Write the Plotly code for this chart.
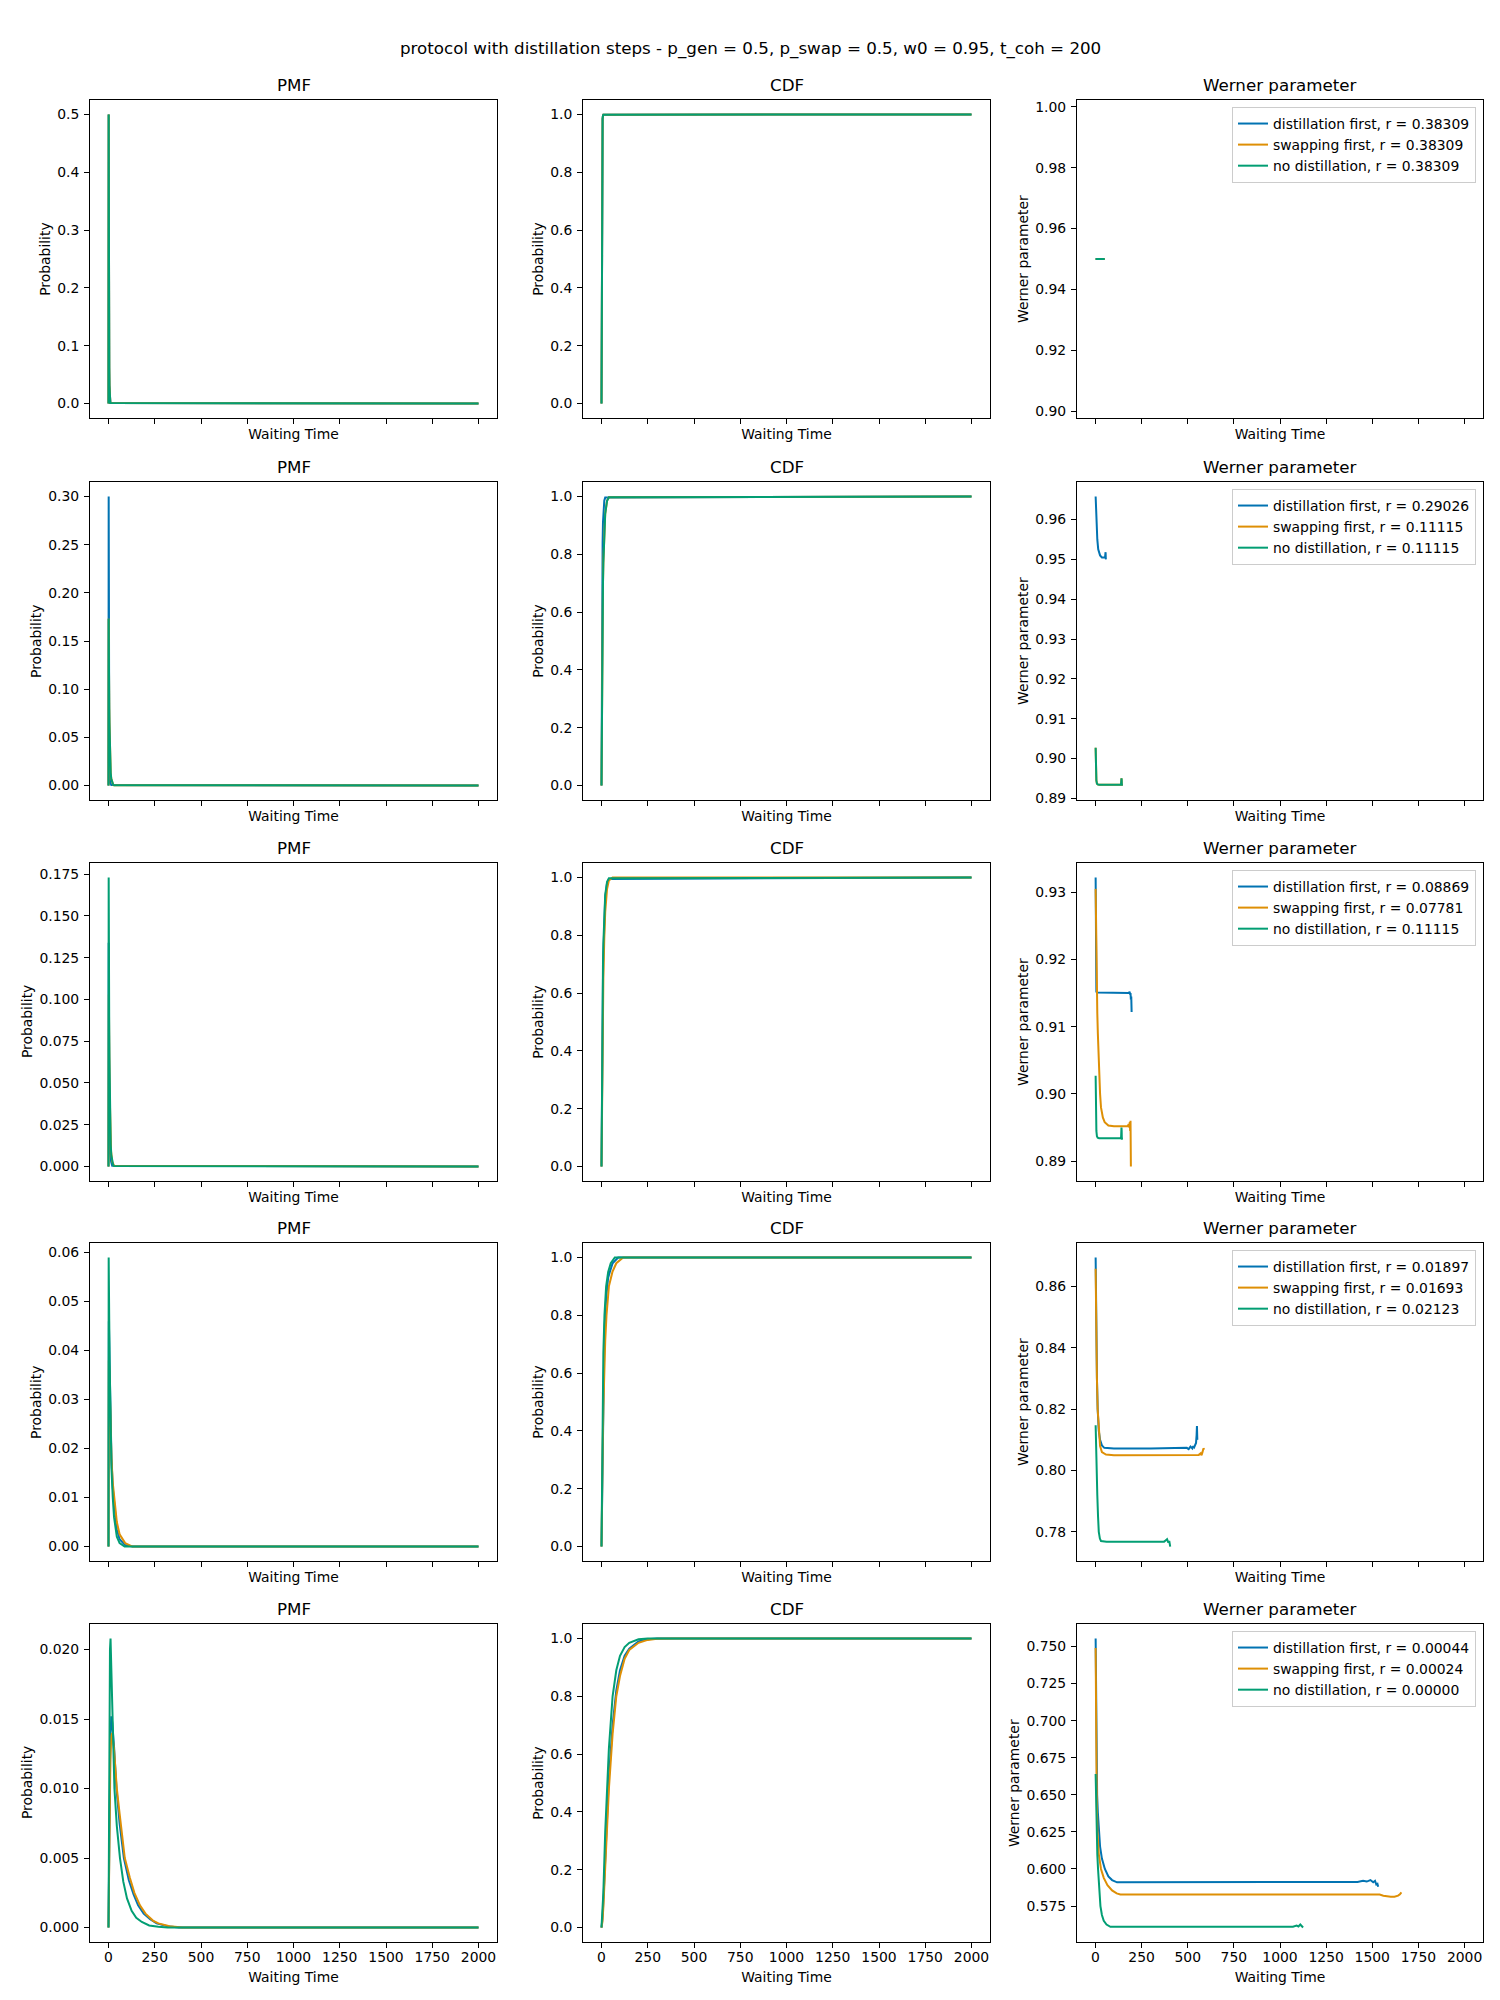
import math
import plotly.graph_objects as go

# ---------------- data ----------------
SUPTITLE = "protocol with distillation steps - p_gen = 0.5, p_swap = 0.5, w0 = 0.95, t_coh = 200"
COL_TITLES = ["PMF", "CDF", "Werner parameter"]
Y_TITLES = ["Probability", "Probability", "Werner parameter"]
X_TITLE = "Waiting Time"
SERIES_NAMES = ["distillation first", "swapping first", "no distillation"]
R_DIST = ["0.38309", "0.29026", "0.08869", "0.01897", "0.00044"]
R_SWAP = ["0.38309", "0.11115", "0.07781", "0.01693", "0.00024"]
R_NODI = ["0.38309", "0.11115", "0.11115", "0.02123", "0.00000"]
X_TICKS = [0, 250, 500, 750, 1000, 1250, 1500, 1750, 2000]

# ---- row 1 (all three curves coincide)
R1_PMF_T = [0, 1, 2, 3, 4, 5, 6, 8, 10, 2000]
R1_PMF_V = [0, 0.5, 0.25, 0.125, 0.0625, 0.031, 0.016, 0.004, 0.001, 0]
R1_CDF_T = [0, 1, 2, 3, 4, 5, 6, 8, 10, 2000]
R1_CDF_V = [0, 0.5, 0.75, 0.875, 0.94, 0.97, 0.985, 0.996, 0.999, 1.0]
R1_W_T = [1, 10, 20, 30, 40, 50]
R1_W_V = [0.95, 0.95, 0.95, 0.95, 0.95, 0.95]

# ---- row 2
R2_PMF_DIST_T = [0, 1, 2, 3, 4, 5, 6, 8, 10, 15, 2000]
R2_PMF_DIST_V = [0, 0.30, 0.16, 0.09, 0.05, 0.03, 0.018, 0.007, 0.003, 0.0005, 0]
R2_PMF_NODI_T = [0, 1, 2, 3, 4, 5, 6, 8, 10, 12, 15, 20, 25, 30, 2000]
R2_PMF_NODI_V = [0, 0.173, 0.13, 0.10, 0.08, 0.065, 0.05, 0.032, 0.02, 0.013, 0.007, 0.003, 0.001, 0.0003, 0]
R2_CDF_DIST_T = [0, 1, 2, 3, 4, 6, 8, 10, 15, 20, 2000]
R2_CDF_DIST_V = [0, 0.30, 0.5, 0.63, 0.72, 0.84, 0.91, 0.95, 0.985, 0.996, 1.0]
R2_CDF_NODI_T = [0, 1, 2, 3, 4, 6, 8, 10, 15, 20, 30, 40, 2000]
R2_CDF_NODI_V = [0, 0.17, 0.30, 0.40, 0.48, 0.60, 0.70, 0.77, 0.88, 0.94, 0.985, 0.997, 1.0]
R2_W_DIST_T = [1, 3, 6, 10, 15, 20, 25, 35, 45, 52, 54, 55, 56, 57]
R2_W_DIST_V = [0.9658, 0.962, 0.958, 0.955, 0.9525, 0.9515, 0.951, 0.9505, 0.9505, 0.9505, 0.9515, 0.9518, 0.9502, 0.9500]
R2_W_NODI_T = [1, 2, 3, 5, 8, 12, 20, 40, 80, 120, 136, 139, 141, 142, 143, 144]
R2_W_NODI_V = [0.9027, 0.899, 0.896, 0.8945, 0.8937, 0.8935, 0.8934, 0.8934, 0.8934, 0.8934, 0.8934, 0.8936, 0.8950, 0.8946, 0.8932, 0.8935]

# ---- row 3
R3_PMF_DIST_T = [0, 1, 2, 3, 4, 5, 6, 8, 10, 14, 20, 2000]
R3_PMF_DIST_V = [0, 0.134, 0.10, 0.075, 0.055, 0.04, 0.03, 0.016, 0.009, 0.003, 0.0005, 0]
R3_PMF_SWAP_T = [0, 1, 2, 3, 4, 6, 8, 10, 14, 20, 30, 2000]
R3_PMF_SWAP_V = [0, 0.09, 0.103, 0.085, 0.068, 0.045, 0.03, 0.02, 0.009, 0.003, 0.0005, 0]
R3_CDF_DIST_T = [0, 1, 2, 3, 4, 6, 8, 10, 15, 20, 30, 40, 2000]
R3_CDF_DIST_V = [0, 0.134, 0.25, 0.34, 0.42, 0.55, 0.65, 0.73, 0.86, 0.93, 0.98, 0.995, 1.0]
R3_CDF_SWAP_T = [0, 1, 2, 3, 4, 6, 8, 10, 15, 20, 30, 40, 60, 2000]
R3_CDF_SWAP_V = [0, 0.09, 0.19, 0.28, 0.35, 0.47, 0.57, 0.65, 0.79, 0.88, 0.96, 0.99, 1.0, 1.0]
R3_W_DIST_T = [1, 2, 3, 5, 10, 50, 100, 150, 175, 180, 185, 188, 190, 192, 194, 196]
R3_W_DIST_V = [0.9322, 0.925, 0.916, 0.9152, 0.9151, 0.9151, 0.9151, 0.9151, 0.9151, 0.9150, 0.9152, 0.9148, 0.9150, 0.9140, 0.9145, 0.9122]
R3_W_SWAP_T = [1, 3, 6, 10, 13, 16, 20, 25, 30, 40, 50, 70, 100, 150, 175, 180, 184, 186, 188, 190, 192]
R3_W_SWAP_V = [0.9305, 0.925, 0.918, 0.912, 0.909, 0.906, 0.9025, 0.900, 0.898, 0.8965, 0.8958, 0.8953, 0.8952, 0.8952, 0.8952, 0.8955, 0.8950, 0.8958, 0.8945, 0.8960, 0.8892]

# ---- row 4
R4_PMF_DIST_T = [0, 1, 2, 4, 6, 9, 12, 16, 23, 32, 45, 60, 90, 130, 2000]
R4_PMF_DIST_V = [0, 0.045, 0.046, 0.042, 0.037, 0.03, 0.024, 0.018, 0.012, 0.008, 0.0035, 0.0015, 0.0003, 0, 0]
R4_PMF_SWAP_T = [0, 1, 2, 4, 6, 9, 12, 16, 23, 32, 45, 60, 90, 130, 2000]
R4_PMF_SWAP_V = [0, 0.035, 0.038, 0.036, 0.033, 0.028, 0.023, 0.018, 0.013, 0.01, 0.005, 0.0025, 0.0007, 0, 0]
R4_PMF_NODI_T = [0, 1, 2, 4, 6, 9, 12, 16, 23, 30, 45, 60, 87, 2000]
R4_PMF_NODI_V = [0, 0.059, 0.055, 0.046, 0.038, 0.03, 0.023, 0.016, 0.01, 0.006, 0.002, 0.0007, 0, 0]
R4_CDF_DIST_T = [0, 1, 2, 4, 7, 10, 16, 25, 36, 45, 60, 90, 2000]
R4_CDF_DIST_V = [0, 0.045, 0.1, 0.27, 0.45, 0.58, 0.75, 0.86, 0.93, 0.95, 0.98, 1.0, 1.0]
R4_CDF_SWAP_T = [0, 1, 2, 4, 7, 10, 14, 20, 27, 40, 59, 80, 117, 2000]
R4_CDF_SWAP_V = [0, 0.035, 0.08, 0.22, 0.37, 0.48, 0.6, 0.71, 0.8, 0.9, 0.95, 0.98, 1.0, 1.0]
R4_CDF_NODI_T = [0, 1, 2, 4, 7, 10, 16, 25, 36, 50, 72, 2000]
R4_CDF_NODI_V = [0, 0.06, 0.15, 0.35, 0.55, 0.67, 0.8, 0.9, 0.95, 0.98, 1.0, 1.0]
R4_W_DIST_T = [1, 2, 4, 8, 12, 18, 25, 35, 48, 100, 300, 480, 495, 505, 515, 525, 530, 535, 540, 545, 548, 550, 552]
R4_W_DIST_V = [0.8695, 0.86, 0.845, 0.83, 0.82, 0.813, 0.81, 0.8082, 0.8074, 0.8072, 0.8072, 0.8072, 0.8074, 0.8070, 0.8078, 0.8072, 0.808, 0.8076, 0.8085, 0.809, 0.8115, 0.8145, 0.810]
R4_W_SWAP_T = [1, 2, 4, 8, 12, 18, 25, 35, 57, 100, 300, 560, 570, 575, 580, 585, 590]
R4_W_SWAP_V = [0.8658, 0.858, 0.845, 0.83, 0.82, 0.812, 0.808, 0.806, 0.8052, 0.805, 0.805, 0.8051, 0.8056, 0.8050, 0.8060, 0.8072, 0.8068]
R4_W_NODI_T = [1, 3, 5, 7, 10, 14, 18, 24, 30, 60, 200, 372, 380, 388, 395, 400, 405]
R4_W_NODI_V = [0.8148, 0.808, 0.803, 0.80, 0.792, 0.785, 0.780, 0.7778, 0.7770, 0.7768, 0.7768, 0.7768, 0.7772, 0.7776, 0.7765, 0.7770, 0.7752]

# ---- row 5
R5_PMF_DIST_T = [0, 3, 6, 10, 15, 20, 30, 43, 60, 83, 110, 135, 160, 190, 225, 260, 320, 380, 2000]
R5_PMF_DIST_V = [0, 0.005, 0.010, 0.0135, 0.0152, 0.0148, 0.013, 0.010, 0.0075, 0.005, 0.0034, 0.0024, 0.0016, 0.001, 0.0006, 0.0003, 0.0001, 0, 0]
R5_PMF_SWAP_T = [0, 3, 6, 10, 15, 20, 30, 45, 60, 88, 115, 140, 170, 200, 240, 270, 330, 400, 2000]
R5_PMF_SWAP_V = [0, 0.004, 0.0085, 0.012, 0.0138, 0.014, 0.0128, 0.010, 0.0082, 0.005, 0.0036, 0.0025, 0.0016, 0.001, 0.0005, 0.0003, 0.0001, 0, 0]
R5_PMF_NODI_T = [0, 2, 5, 8, 11, 15, 20, 32, 45, 62, 80, 100, 125, 150, 180, 220, 270, 320, 2000]
R5_PMF_NODI_V = [0, 0.007, 0.016, 0.020, 0.0208, 0.019, 0.0165, 0.010, 0.0073, 0.005, 0.0033, 0.0021, 0.0012, 0.0007, 0.0004, 0.00015, 0.00005, 0, 0]
R5_CDF_DIST_T = [0, 5, 10, 20, 30, 40, 60, 80, 100, 125, 150, 200, 250, 300, 400, 2000]
R5_CDF_DIST_V = [0, 0.03, 0.09, 0.25, 0.4, 0.52, 0.7, 0.82, 0.89, 0.94, 0.965, 0.99, 0.997, 1.0, 1.0, 1.0]
R5_CDF_SWAP_T = [0, 5, 10, 20, 30, 40, 60, 80, 100, 125, 150, 200, 250, 300, 400, 2000]
R5_CDF_SWAP_V = [0, 0.02, 0.07, 0.21, 0.36, 0.48, 0.67, 0.8, 0.87, 0.93, 0.96, 0.985, 0.995, 0.999, 1.0, 1.0]
R5_CDF_NODI_T = [0, 5, 10, 20, 30, 40, 60, 80, 100, 125, 150, 200, 250, 300, 2000]
R5_CDF_NODI_V = [0, 0.05, 0.12, 0.33, 0.5, 0.62, 0.8, 0.89, 0.94, 0.97, 0.985, 0.997, 1.0, 1.0, 1.0]
R5_W_DIST_T = [1, 3, 6, 9, 13, 18, 25, 35, 51, 70, 90, 117, 300, 1000, 1378, 1420, 1450, 1470, 1490, 1505, 1515, 1522, 1528, 1532]
R5_W_DIST_V = [0.7554, 0.72, 0.68, 0.65, 0.638, 0.625, 0.615, 0.607, 0.600, 0.595, 0.5925, 0.591, 0.591, 0.591, 0.591, 0.5912, 0.592, 0.5915, 0.5925, 0.591, 0.592, 0.5895, 0.590, 0.588]
R5_W_SWAP_T = [1, 3, 5, 7, 11, 18, 30, 45, 65, 90, 115, 135, 400, 1000, 1540, 1560, 1580, 1600, 1620, 1640, 1650, 1658]
R5_W_SWAP_V = [0.749, 0.70, 0.665, 0.645, 0.625, 0.61, 0.60, 0.594, 0.589, 0.5855, 0.5835, 0.5828, 0.5827, 0.5827, 0.5828, 0.5820, 0.5815, 0.5812, 0.5813, 0.5820, 0.5830, 0.5842]
R5_W_NODI_T = [1, 3, 6, 10, 14, 20, 27, 35, 45, 60, 81, 300, 1030, 1050, 1070, 1090, 1100, 1110, 1118, 1125]
R5_W_NODI_V = [0.664, 0.645, 0.625, 0.61, 0.60, 0.585, 0.575, 0.569, 0.565, 0.5625, 0.561, 0.561, 0.561, 0.5613, 0.5610, 0.5618, 0.5612, 0.5625, 0.5615, 0.5605]

# ---------------- assemble panels from the named arrays ----------------
panels = [
    [[(R1_PMF_T, R1_PMF_V)] * 3, [(R1_CDF_T, R1_CDF_V)] * 3, [(R1_W_T, R1_W_V)] * 3],
    [[(R2_PMF_DIST_T, R2_PMF_DIST_V), (R2_PMF_NODI_T, R2_PMF_NODI_V), (R2_PMF_NODI_T, R2_PMF_NODI_V)],
     [(R2_CDF_DIST_T, R2_CDF_DIST_V), (R2_CDF_NODI_T, R2_CDF_NODI_V), (R2_CDF_NODI_T, R2_CDF_NODI_V)],
     [(R2_W_DIST_T, R2_W_DIST_V), (R2_W_NODI_T, R2_W_NODI_V), (R2_W_NODI_T, R2_W_NODI_V)]],
    [[(R3_PMF_DIST_T, R3_PMF_DIST_V), (R3_PMF_SWAP_T, R3_PMF_SWAP_V), (R2_PMF_NODI_T, R2_PMF_NODI_V)],
     [(R3_CDF_DIST_T, R3_CDF_DIST_V), (R3_CDF_SWAP_T, R3_CDF_SWAP_V), (R2_CDF_NODI_T, R2_CDF_NODI_V)],
     [(R3_W_DIST_T, R3_W_DIST_V), (R3_W_SWAP_T, R3_W_SWAP_V), (R2_W_NODI_T, R2_W_NODI_V)]],
    [[(R4_PMF_DIST_T, R4_PMF_DIST_V), (R4_PMF_SWAP_T, R4_PMF_SWAP_V), (R4_PMF_NODI_T, R4_PMF_NODI_V)],
     [(R4_CDF_DIST_T, R4_CDF_DIST_V), (R4_CDF_SWAP_T, R4_CDF_SWAP_V), (R4_CDF_NODI_T, R4_CDF_NODI_V)],
     [(R4_W_DIST_T, R4_W_DIST_V), (R4_W_SWAP_T, R4_W_SWAP_V), (R4_W_NODI_T, R4_W_NODI_V)]],
    [[(R5_PMF_DIST_T, R5_PMF_DIST_V), (R5_PMF_SWAP_T, R5_PMF_SWAP_V), (R5_PMF_NODI_T, R5_PMF_NODI_V)],
     [(R5_CDF_DIST_T, R5_CDF_DIST_V), (R5_CDF_SWAP_T, R5_CDF_SWAP_V), (R5_CDF_NODI_T, R5_CDF_NODI_V)],
     [(R5_W_DIST_T, R5_W_DIST_V), (R5_W_SWAP_T, R5_W_SWAP_V), (R5_W_NODI_T, R5_W_NODI_V)]],
]
R_LABELS = [R_DIST, R_SWAP, R_NODI]

# ---------------- styling / layout ----------------
W, H = 1500, 2000
COLORS = ["#0173b2", "#de8f05", "#029e73"]
FONT = "DejaVu Sans"
TICK_PX = 13.9
TITLE_PX = 16.7
COL_PX = [(90, 497), (583, 990), (1077, 1483)]
ROW_TOP_PX = [100, 482, 863, 1243, 1624]
ROW_H_PX = 318
TICKLEN = 5
TICKPAD = 5
Y_TICKS = [
    [(0.1, ".1f"), (0.2, ".1f"), (0.02, ".2f")],
    [(0.05, ".2f"), (0.2, ".1f"), (0.01, ".2f")],
    [(0.025, ".3f"), (0.2, ".1f"), (0.01, ".2f")],
    [(0.01, ".2f"), (0.2, ".1f"), (0.02, ".2f")],
    [(0.005, ".3f"), (0.2, ".1f"), (0.025, ".3f")],
]


def padded(vals, frac=0.05):
    lo, hi = min(vals), max(vals)
    if hi - lo <= 1e-12 * max(abs(lo), abs(hi), 1.0):
        lo, hi = lo - 0.05 * abs(lo), hi + 0.05 * abs(hi)
    span = hi - lo
    return [lo - frac * span, hi + frac * span]


def label_width(rng, dtick, fmt):
    # approximate DejaVu Sans advance widths (em) for the tick labels
    widths = {".": 0.318, "-": 0.361}
    k0 = math.ceil(rng[0] / dtick - 1e-9)
    k1 = math.floor(rng[1] / dtick + 1e-9)
    best = 0.0
    for k in range(k0, k1 + 1):
        s = format(k * dtick, fmt)
        best = max(best, sum(widths.get(ch, 0.636) for ch in s) * TICK_PX)
    return best


all_t = [t for row in panels for col in row for (ts, _) in col for t in ts]
x_range = padded(all_t)

fig = go.Figure()
layout = dict(
    width=W, height=H, autosize=False,
    margin=dict(l=0, r=0, t=0, b=0),
    paper_bgcolor="white", plot_bgcolor="white",
    font=dict(family=FONT, size=TICK_PX, color="black"),
    template="none",
    annotations=[],
)

for r in range(5):
    y1 = 1 - ROW_TOP_PX[r] / H
    y0 = 1 - (ROW_TOP_PX[r] + ROW_H_PX) / H
    legend_name = "legend" if r == 0 else f"legend{r + 1}"
    for c in range(3):
        k = r * 3 + c + 1
        xa = "xaxis" if k == 1 else f"xaxis{k}"
        ya = "yaxis" if k == 1 else f"yaxis{k}"
        xref = "x" if k == 1 else f"x{k}"
        yref = "y" if k == 1 else f"y{k}"
        x0p, x1p = COL_PX[c][0] / W, COL_PX[c][1] / W
        ys = []
        for s in range(3):
            ts, vs = panels[r][c][s]
            ys.extend(vs)
            fig.add_trace(go.Scatter(
                x=ts, y=vs, mode="lines", xaxis=xref, yaxis=yref,
                line=dict(color=COLORS[s], width=2),
                name=f"{SERIES_NAMES[s]}, r = {R_LABELS[s][r]}",
                showlegend=(c == 2), legend=legend_name,
                hoverinfo="skip",
            ))
        dtick, fmt = Y_TICKS[r][c]
        y_range = padded(ys)
        layout[xa] = dict(
            domain=[x0p, x1p], anchor=yref, range=x_range,
            tickmode="array", tickvals=X_TICKS, ticktext=[str(v) for v in X_TICKS],
            showticklabels=(r == 4), ticklabelstandoff=-3,
            ticks="outside", ticklen=TICKLEN, tickwidth=1, tickcolor="black",
            showline=True, linecolor="black", linewidth=1, mirror=True,
            showgrid=False, zeroline=False,
            title=dict(text=X_TITLE, font=dict(size=TICK_PX), standoff=(8 if r == 4 else 6)),
            tickfont=dict(size=TICK_PX),
        )
        layout[ya] = dict(
            domain=[y0, y1], anchor=xref, range=y_range,
            tick0=0, dtick=dtick, tickformat=fmt,
            ticks="outside", ticklen=TICKLEN, tickwidth=1, tickcolor="black",
            ticklabelstandoff=2,
            showline=True, linecolor="black", linewidth=1, mirror=True,
            showgrid=False, zeroline=False,
            tickfont=dict(size=TICK_PX),
        )
        # y-axis title placed just outside the tick labels (like matplotlib)
        lw = label_width(y_range, dtick, fmt)
        title_x_px = COL_PX[c][0] - TICKLEN - TICKPAD - lw - 5.6 - 7.5
        layout["annotations"].append(dict(
            text=Y_TITLES[c], xref="paper", yref="paper",
            x=title_x_px / W, y=(y0 + y1) / 2, xanchor="center", yanchor="middle",
            textangle=-90, showarrow=False,
            font=dict(size=TICK_PX, family=FONT, color="black"),
        ))
        layout["annotations"].append(dict(
            text=COL_TITLES[c], xref="paper", yref="paper",
            x=(x0p + x1p) / 2, y=y1, xanchor="center", yanchor="bottom", yshift=3,
            showarrow=False, font=dict(size=TITLE_PX, family=FONT, color="black"),
        ))
    layout[legend_name] = dict(
        x=(COL_PX[2][1] - 7) / W, y=1 - (ROW_TOP_PX[r] + 7) / H,
        xanchor="right", yanchor="top",
        bgcolor="rgba(255,255,255,0.8)", bordercolor="#cccccc", borderwidth=1,
        font=dict(size=TICK_PX, family=FONT, color="black"),
        tracegroupgap=0,
    )

layout["annotations"].append(dict(
    text=SUPTITLE, xref="paper", yref="paper", x=0.5, y=1 - 48 / H,
    xanchor="center", yanchor="middle", showarrow=False,
    font=dict(size=TITLE_PX, family=FONT, color="black"),
))

fig.update_layout(**layout)
fig.write_html("out.html")
